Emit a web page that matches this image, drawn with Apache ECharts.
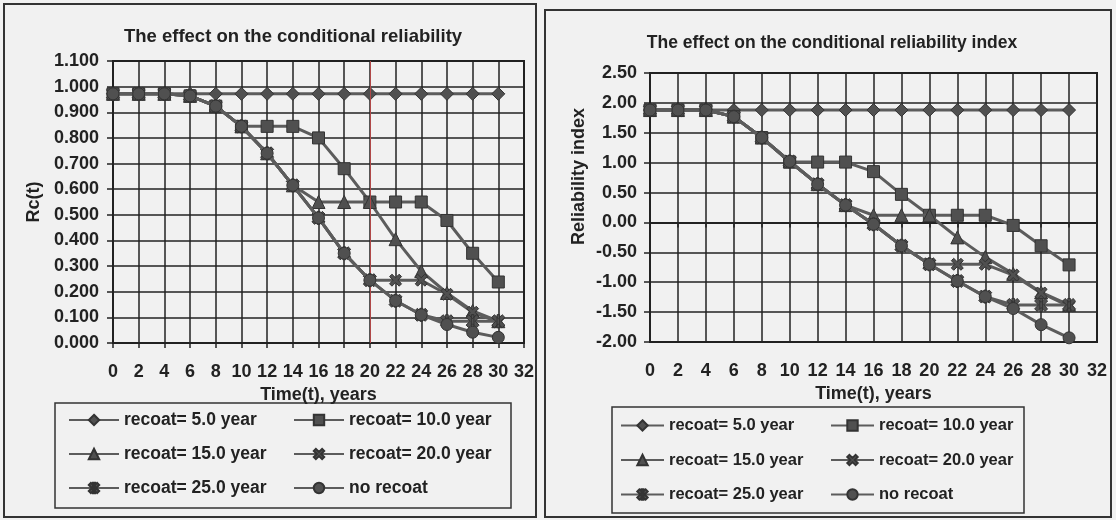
<!DOCTYPE html>
<html><head><meta charset="utf-8">
<script src="https://cdn.jsdelivr.net/npm/echarts@6/dist/echarts.min.js"></script>
<style>html,body{margin:0;padding:0;background:#f1f1f1}#c{width:1116px;height:520px}</style>
</head><body><div id="c"></div>
<script>
// ---- data ----
const years = [0,2,4,6,8,10,12,14,16,18,20,22,24,26,28,30];
const seriesNames = ['recoat= 5.0 year','recoat= 10.0 year','recoat= 15.0 year','recoat= 20.0 year','recoat= 25.0 year','no recoat'];
const titleLeft = 'The effect on the conditional reliability';
const titleRight = 'The effect on the conditional reliability index';
// conditional reliability Rc(t)
const rcRecoat5   = [0.972,0.972,0.972,0.972,0.972,0.972,0.972,0.972,0.972,0.972,0.972,0.972,0.972,0.972,0.972,0.972];
const rcRecoat10  = [0.972,0.972,0.972,0.964,0.924,0.845,0.845,0.845,0.800,0.680,0.550,0.550,0.550,0.478,0.350,0.238];
const rcRecoat15  = [0.972,0.972,0.972,0.964,0.924,0.845,0.740,0.615,0.550,0.550,0.550,0.405,0.280,0.195,0.125,0.085];
const rcRecoat20  = [0.972,0.972,0.972,0.964,0.924,0.845,0.740,0.615,0.488,0.350,0.245,0.245,0.245,0.190,0.120,0.082];
const rcRecoat25  = [0.972,0.972,0.972,0.964,0.924,0.845,0.740,0.615,0.488,0.350,0.245,0.165,0.110,0.085,0.085,0.085];
const rcNoRecoat  = [0.972,0.972,0.972,0.964,0.924,0.845,0.740,0.615,0.488,0.350,0.245,0.165,0.110,0.072,0.042,0.022];
// conditional reliability index
const biRecoat5   = [1.88,1.88,1.88,1.88,1.88,1.88,1.88,1.88,1.88,1.88,1.88,1.88,1.88,1.88,1.88,1.88];
const biRecoat10  = [1.88,1.88,1.88,1.77,1.42,1.01,1.01,1.01,0.85,0.47,0.12,0.12,0.12,-0.05,-0.39,-0.71];
const biRecoat15  = [1.88,1.88,1.88,1.77,1.42,1.02,0.64,0.29,0.12,0.12,0.12,-0.25,-0.58,-0.86,-1.17,-1.38];
const biRecoat20  = [1.88,1.88,1.88,1.77,1.42,1.02,0.64,0.29,-0.03,-0.39,-0.70,-0.70,-0.70,-0.88,-1.18,-1.40];
const biRecoat25  = [1.88,1.88,1.88,1.77,1.42,1.02,0.64,0.29,-0.03,-0.39,-0.70,-0.98,-1.24,-1.38,-1.38,-1.38];
const biNoRecoat  = [1.88,1.88,1.88,1.77,1.42,1.02,0.64,0.29,-0.03,-0.39,-0.70,-0.98,-1.24,-1.44,-1.71,-1.93];

const rcData = [rcRecoat5, rcRecoat10, rcRecoat15, rcRecoat20, rcRecoat25, rcNoRecoat];
const biData = [biRecoat5, biRecoat10, biRecoat15, biRecoat20, biRecoat25, biNoRecoat];

// ---- styles ----
const FONT = "'Liberation Sans', Arial, sans-serif";
const INK = '#222';
const SYM_X = 'path://M0,2 L2,0 L5,3 L8,0 L10,2 L7,5 L10,8 L8,10 L5,7 L2,10 L0,8 L3,5 Z';
const SYM_AST = 'path://M0,2 L2,0 L5,3 L8,0 L10,2 L7,5 L10,8 L8,10 L5,7 L2,10 L0,8 L3,5 Z M4,0 L6,0 L6,10 L4,10 Z';
const symbols = ['diamond','rect','triangle',SYM_X,SYM_AST,'circle'];
const symSizes = [13,12,13,12,13,12];

function pairs(arr){ return years.map((x,i)=>[x,arr[i]]); }

function xAxisCfg(gi){
  return {type:'value', gridIndex:gi, min:0, max:32, interval:2,
    name:'Time(t), years', nameLocation:'middle', nameGap:42,
    nameTextStyle:{fontSize:18, fontWeight:'bold', color:INK, fontFamily:FONT},
    axisLine:{show:true, lineStyle:{color:INK, width:2}},
    axisTick:{show:true, length:5, lineStyle:{color:INK, width:1.5}},
    axisLabel:{fontSize:18, fontWeight:'bold', color:INK, fontFamily:FONT, margin:20},
    splitLine:{show:true, lineStyle:{color:INK, width:1.5}}};
}

const series = [];
for (let k=0;k<6;k++){
  [[0,rcData],[1,biData]].forEach(([gi,src])=>{
    const s = {name:seriesNames[k], type:'line', xAxisIndex:gi, yAxisIndex:gi,
      data:pairs(src[k]), symbol:symbols[k], symbolSize:symSizes[k],
      lineStyle:{color:'#5c5c5c', width:3},
      itemStyle:{color:'#505050', borderColor:'#333', borderWidth:1},
      emphasis:{disabled:true}, animation:false, z:2+k};
    if (gi===0 && k===0){
      s.markLine = {silent:true, symbol:'none', label:{show:false},
        lineStyle:{color:'#b04848', width:1, type:'solid'}, data:[{xAxis:20}]};
    }
    series.push(s);
  });
}

// one vertical legend per column
function legendCol(names, left, top, itemW, gap, fs){
  return {data:names, left:left, top:top, orient:'vertical',
    itemWidth:itemW, itemHeight:13, itemGap:gap, padding:0, selectedMode:false,
    textStyle:{fontSize:fs, fontWeight:'bold', color:INK, fontFamily:FONT}};
}
const colA = [seriesNames[0], seriesNames[2], seriesNames[4]];
const colB = [seriesNames[1], seriesNames[3], seriesNames[5]];

const chart = echarts.init(document.getElementById('c'));
chart.setOption({
  backgroundColor:'#f1f1f1',
  animation:false,
  textStyle:{fontFamily:FONT},
  title:[
    {text:titleLeft, left:288, top:22, textAlign:'center', textStyle:{fontSize:18.5, fontWeight:'bold', color:INK, fontFamily:FONT}},
    {text:titleRight, left:827, top:29, textAlign:'center', textStyle:{fontSize:17.5, fontWeight:'bold', color:INK, fontFamily:FONT}}
  ],
  grid:[
    {left:113, top:61, width:411, height:282, show:true, borderColor:INK, borderWidth:2, backgroundColor:'transparent'},
    {left:650, top:73, width:447, height:269, show:true, borderColor:INK, borderWidth:2, backgroundColor:'transparent'}
  ],
  xAxis:[xAxisCfg(0), xAxisCfg(1)],
  yAxis:[
    {type:'value', gridIndex:0, min:0, max:1.1, interval:0.1,
      name:'Rc(t)', nameLocation:'middle', nameGap:70,
      nameTextStyle:{fontSize:18, fontWeight:'bold', color:INK, fontFamily:FONT},
      axisLine:{show:true, lineStyle:{color:INK, width:2}},
      axisTick:{show:true, length:6, lineStyle:{color:INK, width:1.5}},
      axisLabel:{fontSize:18, fontWeight:'bold', color:INK, fontFamily:FONT, margin:14, formatter:v=>v.toFixed(3)},
      splitLine:{show:true, lineStyle:{color:INK, width:1.5}}},
    {type:'value', gridIndex:1, min:-2, max:2.5, interval:0.5,
      name:'Reliability index', nameLocation:'middle', nameGap:62,
      nameTextStyle:{fontSize:18, fontWeight:'bold', color:INK, fontFamily:FONT, padding:[0,0,0,62]},
      axisLine:{show:true, lineStyle:{color:INK, width:2}},
      axisTick:{show:true, length:6, lineStyle:{color:INK, width:1.5}},
      axisLabel:{fontSize:18, fontWeight:'bold', color:INK, fontFamily:FONT, margin:13, formatter:v=>v.toFixed(2)},
      splitLine:{show:true, lineStyle:{color:INK, width:1.5}}}
  ],
  legend:[
    legendCol(colA, 68, 411, 50, 16, 17.5),
    legendCol(colB, 293, 411, 50, 16, 17.5),
    legendCol(colA, 620, 417, 43, 17.5, 16.5),
    legendCol(colB, 830, 417, 43, 17.5, 16.5)
  ],
  graphic:[
    {type:'rect', shape:{x:4, y:4, width:532, height:513}, style:{fill:'none', stroke:'#333', lineWidth:2}, silent:true},
    {type:'rect', shape:{x:545, y:10, width:566, height:507}, style:{fill:'none', stroke:'#333', lineWidth:2}, silent:true},
    {type:'rect', shape:{x:55, y:403, width:456, height:105}, style:{fill:'none', stroke:'#333', lineWidth:1.5}, silent:true},
    {type:'rect', shape:{x:612, y:407, width:412, height:106}, style:{fill:'none', stroke:'#333', lineWidth:1.5}, silent:true}
  ],
  series:series
});
</script></body></html>
